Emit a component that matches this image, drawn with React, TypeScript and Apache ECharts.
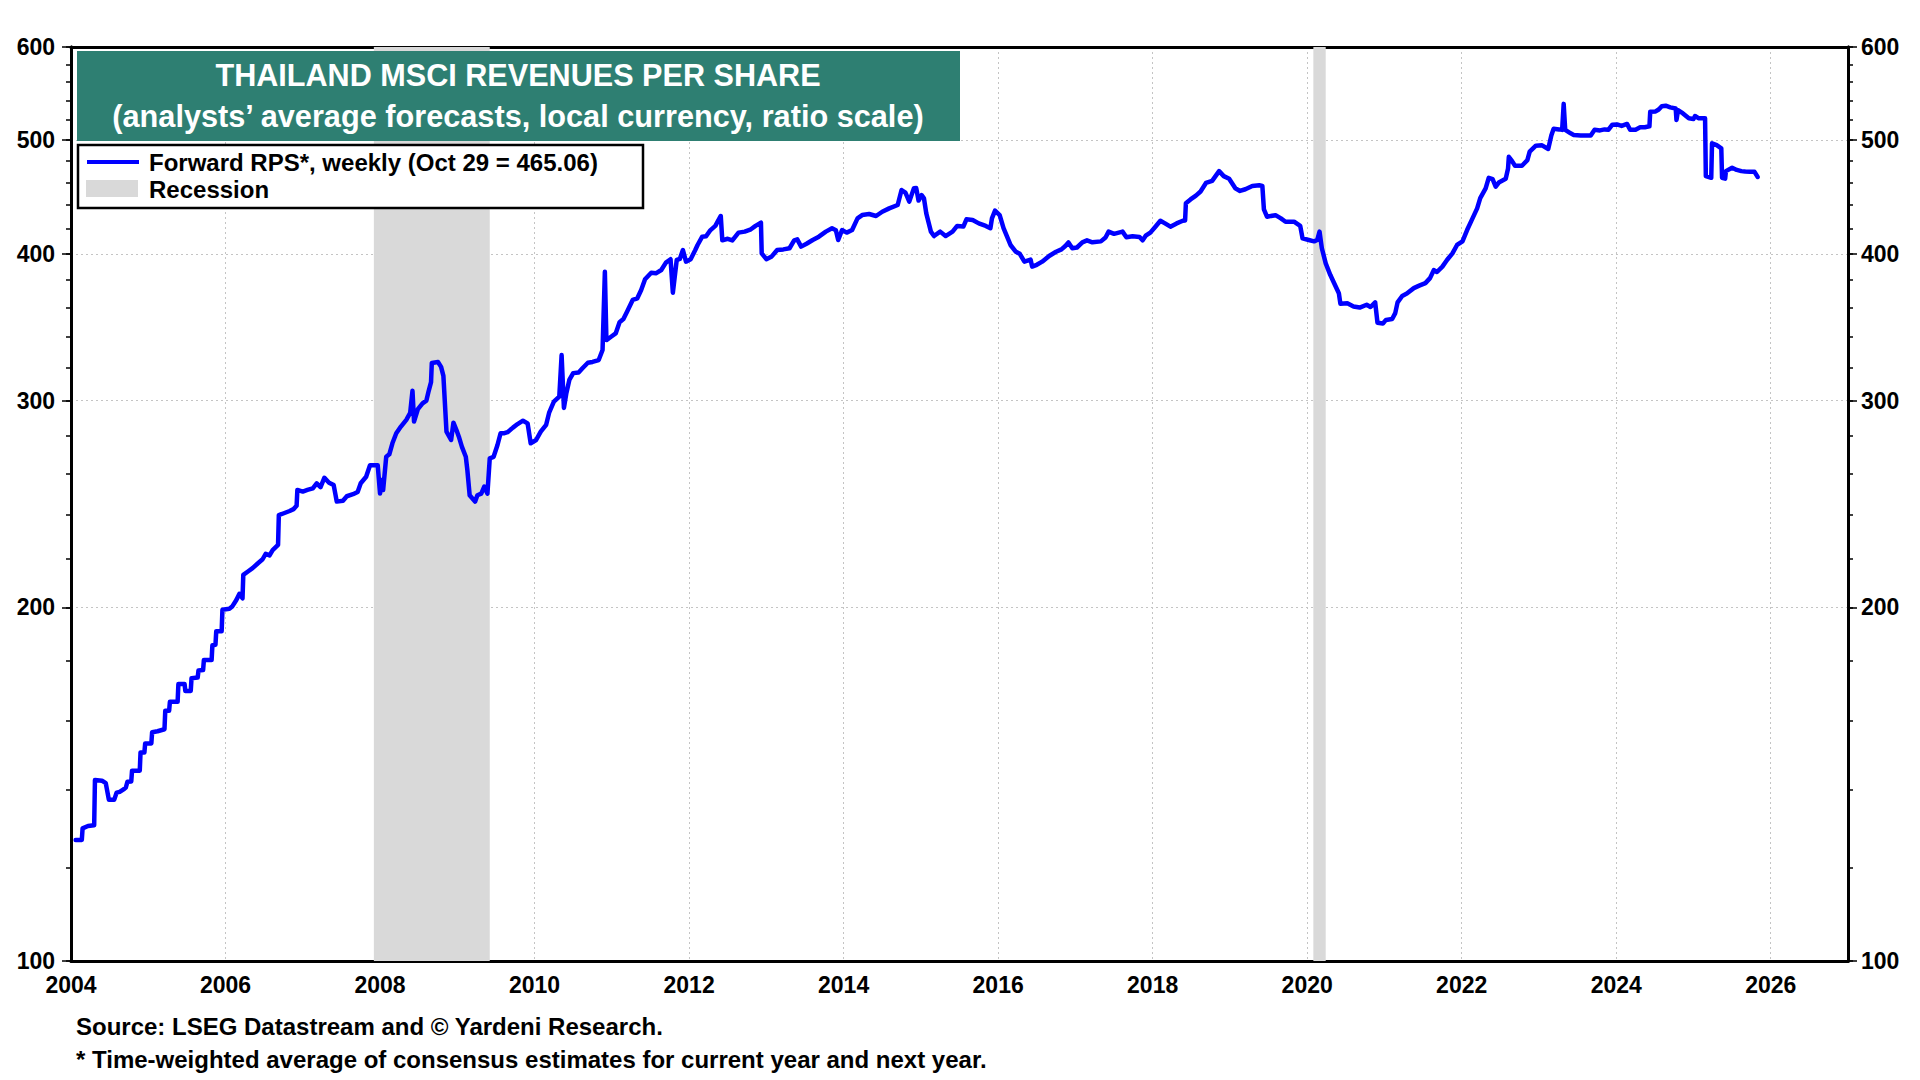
import React, { useEffect, useRef } from "react";
import * as echarts from "echarts";

// Forward RPS (weekly): [decimal year], [value]
const years = [
  2004.06, 2004.14, 2004.15, 2004.22, 2004.30, 2004.31, 2004.40, 2004.45, 2004.49, 2004.56,
  2004.59, 2004.63, 2004.68, 2004.71, 2004.73, 2004.78, 2004.79, 2004.89, 2004.90, 2004.95,
  2004.96, 2005.04, 2005.05, 2005.12, 2005.21, 2005.22, 2005.27, 2005.28, 2005.38, 2005.39,
  2005.47, 2005.48, 2005.55, 2005.56, 2005.64, 2005.65, 2005.71, 2005.72, 2005.82, 2005.83,
  2005.87, 2005.88, 2005.95, 2005.96, 2006.05, 2006.09, 2006.14, 2006.18, 2006.22, 2006.23,
  2006.29, 2006.35, 2006.42, 2006.48, 2006.52, 2006.57, 2006.61, 2006.68, 2006.69, 2006.73,
  2006.83, 2006.88, 2006.92, 2006.93, 2007.00, 2007.06, 2007.13, 2007.18, 2007.23, 2007.28,
  2007.34, 2007.40, 2007.44, 2007.52, 2007.57, 2007.65, 2007.71, 2007.75, 2007.82, 2007.87,
  2007.97, 2008.00, 2008.02, 2008.04, 2008.08, 2008.12, 2008.16, 2008.21, 2008.27, 2008.34,
  2008.39, 2008.42, 2008.44, 2008.49, 2008.55, 2008.60, 2008.63, 2008.66, 2008.67, 2008.75,
  2008.79, 2008.82, 2008.86, 2008.92, 2008.95, 2008.99, 2009.02, 2009.06, 2009.11, 2009.13,
  2009.16, 2009.23, 2009.26, 2009.31, 2009.35, 2009.39, 2009.42, 2009.47, 2009.52, 2009.56,
  2009.61, 2009.65, 2009.72, 2009.78, 2009.85, 2009.91, 2009.95, 2010.02, 2010.08, 2010.15,
  2010.19, 2010.25, 2010.32, 2010.35, 2010.38, 2010.41, 2010.45, 2010.50, 2010.57, 2010.62,
  2010.69, 2010.75, 2010.83, 2010.88, 2010.91, 2010.93, 2010.99, 2011.05, 2011.10, 2011.15,
  2011.20, 2011.27, 2011.33, 2011.38, 2011.43, 2011.51, 2011.57, 2011.64, 2011.70, 2011.76,
  2011.79, 2011.84, 2011.88, 2011.92, 2011.96, 2012.02, 2012.08, 2012.11, 2012.17, 2012.22,
  2012.27, 2012.34, 2012.38, 2012.41, 2012.43, 2012.50, 2012.56, 2012.64, 2012.72, 2012.80,
  2012.86, 2012.93, 2012.94, 2013.00, 2013.07, 2013.14, 2013.22, 2013.30, 2013.36, 2013.40,
  2013.45, 2013.52, 2013.60, 2013.68, 2013.77, 2013.85, 2013.90, 2013.93, 2013.98, 2014.04,
  2014.11, 2014.18, 2014.24, 2014.33, 2014.42, 2014.50, 2014.59, 2014.70, 2014.75, 2014.80,
  2014.85, 2014.88, 2014.91, 2014.94, 2014.97, 2015.01, 2015.04, 2015.07, 2015.13, 2015.17,
  2015.25, 2015.32, 2015.41, 2015.47, 2015.55, 2015.59, 2015.67, 2015.75, 2015.84, 2015.90,
  2015.92, 2015.96, 2016.02, 2016.07, 2016.16, 2016.23, 2016.28, 2016.34, 2016.42, 2016.44,
  2016.50, 2016.57, 2016.66, 2016.75, 2016.82, 2016.87, 2016.91, 2016.96, 2017.02, 2017.09,
  2017.15, 2017.22, 2017.33, 2017.39, 2017.43, 2017.50, 2017.61, 2017.66, 2017.74, 2017.83,
  2017.87, 2017.91, 2017.97, 2018.03, 2018.10, 2018.16, 2018.23, 2018.31, 2018.39, 2018.42,
  2018.43, 2018.49, 2018.56, 2018.62, 2018.69, 2018.77, 2018.86, 2018.92, 2018.99, 2019.07,
  2019.13, 2019.20, 2019.29, 2019.38, 2019.42, 2019.44, 2019.48, 2019.59, 2019.66, 2019.72,
  2019.83, 2019.91, 2019.94, 2020.02, 2020.09, 2020.13, 2020.16, 2020.19, 2020.24, 2020.30,
  2020.36, 2020.41, 2020.43, 2020.52, 2020.60, 2020.68, 2020.77, 2020.82, 2020.88, 2020.91,
  2020.98, 2021.02, 2021.10, 2021.14, 2021.17, 2021.23, 2021.29, 2021.38, 2021.45, 2021.53,
  2021.59, 2021.64, 2021.68, 2021.75, 2021.81, 2021.88, 2021.94, 2022.01, 2022.07, 2022.14,
  2022.20, 2022.24, 2022.31, 2022.35, 2022.40, 2022.44, 2022.48, 2022.57, 2022.60, 2022.61,
  2022.65, 2022.69, 2022.78, 2022.85, 2022.88, 2022.96, 2023.04, 2023.12, 2023.16, 2023.19,
  2023.26, 2023.30, 2023.32, 2023.34, 2023.41, 2023.45, 2023.54, 2023.67, 2023.72, 2023.79,
  2023.85, 2023.90, 2023.95, 2024.01, 2024.07, 2024.14, 2024.18, 2024.25, 2024.31, 2024.37,
  2024.43, 2024.44, 2024.51, 2024.55, 2024.59, 2024.64, 2024.70, 2024.77, 2024.78, 2024.80,
  2024.86, 2024.94, 2025.00, 2025.02, 2025.07, 2025.15, 2025.16, 2025.23, 2025.24, 2025.30,
  2025.36, 2025.37, 2025.41, 2025.42, 2025.50, 2025.56, 2025.62, 2025.67, 2025.73, 2025.79,
  2025.83,
];

const rps = [
  126.8, 126.8, 129.7, 130.3, 130.5, 142.6, 142.4, 141.7, 137.2, 137.2,
  139.1, 139.3, 140.0, 140.5, 142.1, 142.2, 145.2, 145.2, 150.5, 150.5,
  153.2, 153.2, 156.6, 156.9, 157.5, 163.3, 163.3, 166.2, 166.2, 172.1,
  172.1, 169.8, 169.8, 174.1, 174.3, 176.7, 176.9, 180.4, 180.4, 185.7,
  185.9, 190.9, 190.9, 199.1, 199.5, 200.5, 202.9, 205.4, 203.6, 213.2,
  214.6, 216.0, 218.1, 219.8, 222.2, 221.5, 223.8, 226.1, 239.7, 240.2,
  241.6, 242.5, 244.1, 251.8, 251.0, 251.8, 252.6, 255.1, 253.2, 257.9,
  255.4, 254.2, 246.1, 246.5, 248.7, 249.7, 250.8, 255.1, 258.4, 264.3,
  264.3, 250.0, 256.8, 251.8, 268.7, 270.0, 275.9, 281.4, 285.1, 288.9,
  292.8, 305.8, 287.9, 295.0, 298.4, 300.0, 305.8, 311.1, 323.0, 323.6,
  320.5, 314.9, 282.3, 277.7, 287.3, 283.0, 279.5, 274.0, 268.7, 261.8,
  249.2, 246.1, 249.2, 250.0, 253.5, 250.0, 267.9, 268.7, 275.0, 281.4,
  281.4, 282.0, 284.5, 286.5, 288.4, 286.9, 275.9, 277.7, 282.3, 286.1,
  293.2, 299.4, 302.4, 328.0, 295.7, 304.0, 312.4, 316.6, 317.0, 319.6,
  323.1, 323.6, 324.8, 331.3, 386.2, 337.8, 340.0, 342.2, 349.8, 352.0,
  357.4, 365.4, 366.6, 372.6, 380.5, 385.4, 385.0, 387.5, 393.2, 395.8,
  370.7, 395.2, 396.0, 403.0, 393.9, 395.8, 403.0, 407.0, 413.7, 414.0,
  418.6, 422.5, 427.4, 430.8, 410.7, 412.0, 410.7, 417.0, 417.8, 419.7,
  422.5, 425.2, 400.4, 395.8, 398.0, 403.0, 403.5, 404.4, 410.7, 411.5,
  405.7, 408.0, 411.0, 413.7, 417.8, 420.6, 419.0, 411.0, 419.1, 417.0,
  419.1, 428.8, 431.6, 432.5, 430.8, 434.4, 437.3, 440.2, 453.3, 451.0,
  443.1, 449.0, 454.8, 455.0, 444.0, 448.8, 446.0, 433.0, 417.8, 414.2,
  417.8, 414.2, 417.8, 422.5, 422.0, 428.0, 427.4, 424.6, 422.5, 420.6,
  428.8, 435.3, 431.6, 420.6, 407.0, 401.6, 400.0, 393.9, 395.5, 390.1,
  391.5, 393.9, 398.3, 401.6, 403.5, 406.2, 409.0, 404.4, 405.0, 409.1,
  410.7, 409.1, 409.9, 413.0, 417.8, 416.0, 417.8, 413.2, 414.0, 413.5,
  410.7, 414.5, 417.0, 421.4, 426.8, 424.6, 421.9, 424.6, 426.8, 427.0,
  441.7, 445.0, 448.4, 452.0, 459.6, 461.5, 470.4, 465.8, 463.4, 454.8,
  452.5, 454.0, 456.9, 457.5, 456.9, 436.5, 430.2, 431.5, 428.8, 426.0,
  426.0, 422.5, 412.3, 411.0, 409.9, 411.0, 417.8, 404.4, 392.6, 383.7,
  376.3, 370.3, 362.7, 363.0, 360.8, 360.0, 362.0, 360.4, 363.7, 349.5,
  348.9, 351.4, 352.0, 356.1, 363.7, 368.3, 370.0, 374.0, 375.8, 377.7,
  381.4, 387.5, 386.0, 390.1, 395.2, 400.4, 407.0, 409.9, 419.1, 428.8,
  437.3, 446.1, 454.8, 464.3, 463.0, 456.3, 460.0, 463.4, 472.9, 483.8,
  480.0, 475.4, 475.4, 480.6, 488.7, 494.5, 494.8, 491.3, 504.5, 511.1,
  510.5, 510.0, 536.7, 510.0, 506.6, 505.0, 504.5, 504.5, 510.2, 509.5,
  510.5, 510.2, 515.3, 515.5, 514.0, 516.0, 510.2, 510.2, 512.6, 512.6,
  513.6, 528.4, 528.8, 530.8, 534.3, 534.8, 533.0, 531.8, 520.0, 530.0,
  527.0, 521.7, 521.0, 524.1, 521.7, 521.7, 465.8, 464.3, 496.8, 495.0,
  491.9, 464.3, 463.5, 470.4, 473.5, 471.5, 470.4, 470.0, 469.8, 469.8,
  465.06,
];

const recessions = [
  [2007.92, 2009.42],
  [2020.08, 2020.24],
];

const yMajorTicks = [100, 200, 300, 400, 500, 600];
const yMinorTicks = [
  100, 120, 140, 160, 180, 200, 220, 240, 260, 280, 300, 320, 340, 360, 380, 400,
  420, 440, 460, 480, 500, 520, 540, 560, 580, 600,
];
const yGridValues = [200, 300, 400, 500];

const TITLE_1 = "THAILAND MSCI REVENUES PER SHARE";
const TITLE_2 = "(analysts\u2019 average forecasts, local currency, ratio scale)";
const LEGEND_LINE = "Forward RPS*, weekly (Oct 29 = 465.06)";
const LEGEND_REC = "Recession";
const NOTE_1 = "Source: LSEG Datastream and \u00A9 Yardeni Research.";
const NOTE_2 = "* Time-weighted average of consensus estimates for current year and next year.";

const FONT = '"Liberation Sans", Arial, Helvetica, sans-serif';
const BLUE = "#0000ff";
const TEAL = "#2e7f72";
const GREY = "#d9d9d9";

export default function App() {
  const ref = useRef<HTMLDivElement>(null);

  useEffect(() => {
    document.body.style.margin = "0";
    if (!ref.current) return;
    const chart = echarts.init(ref.current, undefined, { renderer: "svg" });

    const labelStyle = {
      color: "#000",
      fontFamily: FONT,
      fontWeight: "bold" as const,
      fontSize: 23,
    };

    const yAxisBase = {
      type: "log" as const,
      logBase: 10,
      min: 100,
      max: 600,
      minorTick: { show: false },
      minorSplitLine: { show: false },
    };

    const mkY = (
      position: "left" | "right",
      ticks: number[],
      len: number,
      showLabel: boolean,
      margin: number
    ) => ({
      ...yAxisBase,
      position,
      axisLine: { show: true, onZero: false, lineStyle: { color: "#000", width: 3 } },
      axisTick: {
        show: true,
        inside: false,
        length: len,
        customValues: ticks,
        lineStyle: { color: "#000", width: 1.5 },
      },
      axisLabel: showLabel
        ? { show: true, customValues: yMajorTicks, margin, ...labelStyle }
        : { show: false },
      splitLine: { show: false },
    });

    const textStyle = (text: string, size: number, fill: string, align: string) => ({
      text,
      fill,
      fontFamily: FONT,
      fontWeight: "bold",
      fontSize: size,
      align,
      verticalAlign: "middle",
    });

    const option = {
      animation: false,
      backgroundColor: "#ffffff",
      grid: {
        left: 71,
        right: 72,
        top: 47,
        bottom: 119,
        containLabel: false,
        outerBoundsMode: "none",
      },
      xAxis: [
        {
          type: "value",
          min: 2004,
          max: 2027,
          interval: 2,
          position: "bottom",
          axisLine: { show: true, onZero: false, lineStyle: { color: "#000", width: 3 } },
          axisTick: { show: false },
          axisLabel: {
            ...labelStyle,
            margin: 12,
            formatter: (v: number) => (Math.round(v) % 2 === 0 ? String(Math.round(v)) : ""),
          },
          splitLine: {
            show: true,
            lineStyle: { type: [2, 3], color: "#c4c4c4", width: 1 },
          },
        },
        {
          type: "value",
          min: 2004,
          max: 2027,
          position: "top",
          axisLine: { show: true, onZero: false, lineStyle: { color: "#000", width: 3 } },
          axisTick: { show: false },
          axisLabel: { show: false },
          splitLine: { show: false },
        },
      ],
      yAxis: [
        mkY("left", yMinorTicks, 5, false, 0),
        mkY("left", yMajorTicks, 9, true, 16),
        mkY("right", yMinorTicks, 5, false, 0),
        mkY("right", yMajorTicks, 9, true, 13),
        {
          ...yAxisBase,
          position: "left",
          axisLine: { show: false },
          axisTick: { show: false, customValues: yGridValues },
          axisLabel: { show: false },
          splitLine: {
            show: true,
            lineStyle: { type: [2, 3], color: "#c4c4c4", width: 1 },
          },
        },
      ],
      series: [
        {
          type: "line",
          name: "Recession",
          xAxisIndex: 0,
          yAxisIndex: 0,
          data: [],
          silent: true,
          z: 1,
          markArea: {
            silent: true,
            itemStyle: { color: GREY },
            data: recessions.map(([a, b]) => [{ xAxis: a }, { xAxis: b }]),
          },
        },
        {
          type: "line",
          name: "Forward RPS",
          xAxisIndex: 0,
          yAxisIndex: 0,
          data: years.map((y, i) => [y, rps[i]]),
          showSymbol: false,
          symbol: "none",
          z: 5,
          lineStyle: { color: BLUE, width: 4.5, join: "round", cap: "round" },
        },
      ],
      graphic: [
        {
          type: "rect",
          z: 100,
          shape: { x: 77, y: 51, width: 883, height: 90 },
          style: { fill: TEAL },
        },
        { type: "text", z: 101, x: 518, y: 75, style: textStyle(TITLE_1, 30.6, "#fff", "center") },
        { type: "text", z: 101, x: 518, y: 116, style: textStyle(TITLE_2, 30.7, "#fff", "center") },
        {
          type: "rect",
          z: 100,
          shape: { x: 78, y: 145, width: 565, height: 63 },
          style: { fill: "#fff", stroke: "#000", lineWidth: 2.5 },
        },
        {
          type: "line",
          z: 101,
          shape: { x1: 87, y1: 162, x2: 139, y2: 162 },
          style: { stroke: BLUE, lineWidth: 4 },
        },
        {
          type: "rect",
          z: 101,
          shape: { x: 86, y: 180, width: 52, height: 17 },
          style: { fill: GREY },
        },
        { type: "text", z: 101, x: 149, y: 162, style: textStyle(LEGEND_LINE, 24, "#000", "left") },
        { type: "text", z: 101, x: 149, y: 189, style: textStyle(LEGEND_REC, 24, "#000", "left") },
        { type: "text", z: 101, x: 76, y: 1026, style: textStyle(NOTE_1, 24, "#000", "left") },
        { type: "text", z: 101, x: 76, y: 1059, style: textStyle(NOTE_2, 24, "#000", "left") },
      ],
    };

    chart.setOption(option as any);
    return () => {
      chart.dispose();
    };
  }, []);

  return <div ref={ref} style={{ width: 1920, height: 1080 }} />;
}
